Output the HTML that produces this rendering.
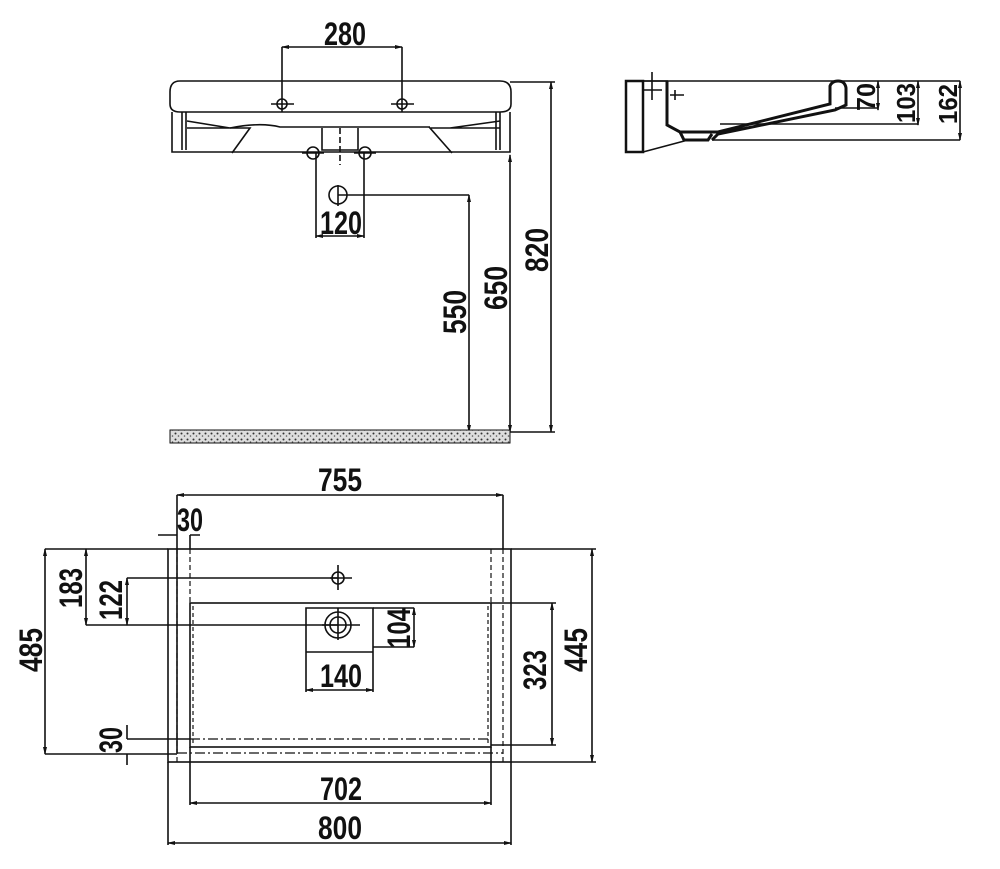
<!DOCTYPE html>
<html><head><meta charset="utf-8"><style>body{margin:0;background:#fff}svg{display:block}</style></head><body>
<svg width="1000" height="869" viewBox="0 0 1000 869" xmlns="http://www.w3.org/2000/svg" font-family="Liberation Sans, sans-serif" font-weight="bold" font-size="32">
<defs>
<pattern id="h" width="6" height="6" patternUnits="userSpaceOnUse"><rect width="6" height="6" fill="#ddd"/><circle cx="1.5" cy="1.5" r="1" fill="#333"/><circle cx="4.5" cy="4" r="0.8" fill="#555"/></pattern>
<marker id="a" markerWidth="8" markerHeight="8" refX="7" refY="4" orient="auto-start-reverse" markerUnits="userSpaceOnUse"><path d="M0,2 L8,4 L0,6 Z" fill="#111"/></marker>
</defs>
<g stroke="#111" stroke-width="1.6" fill="none">
<!-- top view -->
<path d="M180,81 H500 Q511,81 511,92 V104 Q511,112 500,112 H180 Q170,112 170,104 V92 Q170,81 180,81 Z"/>
<path d="M172,112 V152 H510 V112"/>
<path d="M182,112 V150 M186,112 V150 M496,112 V150 M500,112 V150"/>
<path d="M187,121 L230,128 M187,128 H230 L250,128 L232,153 M500,121 L450,128 M500,128 H450 L430,128 L452,153"/>
<path d="M230,128 Q260,122 280,127 H430"/>
<path d="M322,128 V150 H358 V128" />
<path d="M340,128 V165" stroke-dasharray="6,3"/>
<circle cx="282" cy="104" r="5"/><circle cx="402" cy="104" r="5"/>
<path d="M271,104 H294 M391,104 H414"/>
<circle cx="313" cy="153" r="6"/><circle cx="365" cy="153" r="6"/>
<path d="M302,153 H324 M354,153 H376"/>
<circle cx="338" cy="195" r="9"/><path d="M338,185 V206"/>
<path d="M282,47 V112 M402,47 V112"/>
<path d="M282,47 H402" marker-start="url(#a)" marker-end="url(#a)"/>
<path d="M316,153 V238 M364,153 V238"/>
<path d="M316,236 H364" marker-start="url(#a)" marker-end="url(#a)"/>
<path d="M338,195 H469"/>
<path d="M469,195 V432" marker-start="url(#a)" marker-end="url(#a)"/>
<path d="M510,155 V432" marker-start="url(#a)" marker-end="url(#a)"/>
<path d="M510,82 H555"/>
<path d="M551,82 V432" marker-start="url(#a)" marker-end="url(#a)"/>
<path d="M510,432 H555"/>
<rect x="170" y="430" width="340" height="13" fill="url(#h)" stroke-width="1"/>
<!-- side view -->
<path d="M626,81 H960"/>
<rect x="626" y="81" width="17" height="71" stroke-width="2.5"/>
<path d="M643,81 H668 M643,152 L688,140"/>
<path d="M667,81 V125 L680,132 H718 L830,104 V86 Q832,81 838,81 Q845,81 846,88 V105 L835,110 L718,134 L712,140 M680,132 L684,140 H708 L712,134" stroke-width="3"/>
<path d="M712,140 H960 M835,108 H878 M720,124 H918"/>
<path d="M652,72 V100 M642,90 H662 M675,90 V100 M670,95 H684"/>
<path d="M878,81 V110" marker-start="url(#a)" marker-end="url(#a)"/>
<path d="M918,81 V125" marker-start="url(#a)" marker-end="url(#a)"/>
<path d="M960,81 V140" marker-start="url(#a)" marker-end="url(#a)"/>
<!-- plan view -->
<rect x="168" y="549" width="343" height="213"/>
<path d="M177,549 V762 M503,549 V762" stroke-dasharray="5,3" stroke-width="1.2"/>
<path d="M190,549 V603 M491,549 V603" stroke-dasharray="5,3" stroke-width="1.2"/>
<rect x="190" y="603" width="301" height="144" stroke-width="1.6"/>
<path d="M193,606 V745 M488,606 V745" stroke-dasharray="4,3" stroke-width="1.2"/>
<path d="M190,739 H491 M177,753 H503" stroke-dasharray="10,3,2,3" stroke-width="1.2"/>
<path d="M177,495 V753 M503,495 V549"/>
<path d="M177,495 H503" marker-start="url(#a)" marker-end="url(#a)"/>
<path d="M158,535 H177 M190,535 H200 M190,535 V549" />
<circle cx="338" cy="578" r="6"/><path d="M338,565 V590 M330,578 H352"/>
<circle cx="338" cy="625" r="13"/><circle cx="338" cy="625" r="8"/>
<path d="M338,608 V640 M322,625 H360"/>
<path d="M306,608 H373 V652 H306 Z M306,652 V692 M373,652 V692"/>
<path d="M306,690 H373" marker-start="url(#a)" marker-end="url(#a)"/>
<path d="M373,608 H414 M373,647 H414"/>
<path d="M414,608 V647" marker-start="url(#a)" marker-end="url(#a)"/>
<path d="M45,549 H168 M45,754 H177"/>
<path d="M45,549 V754" marker-start="url(#a)" marker-end="url(#a)"/>
<path d="M86,625 H338 M127,578 H338"/>
<path d="M86,549 V625" marker-start="url(#a)" marker-end="url(#a)"/>
<path d="M127,578 V625" marker-start="url(#a)" marker-end="url(#a)"/>
<path d="M127,739 H190 M127,725 V739 M127,754 V765"/>
<path d="M190,747 V805 M491,747 V805"/>
<path d="M190,803 H491" marker-start="url(#a)" marker-end="url(#a)"/>
<path d="M168,762 V845 M511,762 V845"/>
<path d="M168,843 H511" marker-start="url(#a)" marker-end="url(#a)"/>
<path d="M491,603 H556 M491,745 H556"/>
<path d="M552,603 V745" marker-start="url(#a)" marker-end="url(#a)"/>
<path d="M511,549 H596 M511,762 H596"/>
<path d="M592,549 V762" marker-start="url(#a)" marker-end="url(#a)"/>
</g>
<g fill="#111" text-anchor="middle">
<text x="345" y="45" textLength="42" lengthAdjust="spacingAndGlyphs">280</text>
<text x="341" y="234" textLength="42" lengthAdjust="spacingAndGlyphs">120</text>
<text transform="translate(466,312) rotate(-90)" textLength="44" lengthAdjust="spacingAndGlyphs">550</text>
<text transform="translate(507,288) rotate(-90)" textLength="44" lengthAdjust="spacingAndGlyphs">650</text>
<text transform="translate(548,250) rotate(-90)" textLength="44" lengthAdjust="spacingAndGlyphs">820</text>
<text transform="translate(875,97) rotate(-90)" font-size="26" textLength="28" lengthAdjust="spacingAndGlyphs">70</text>
<text transform="translate(915,103) rotate(-90)" font-size="26" textLength="40" lengthAdjust="spacingAndGlyphs">103</text>
<text transform="translate(957,104) rotate(-90)" font-size="26" textLength="40" lengthAdjust="spacingAndGlyphs">162</text>
<text x="340" y="491" textLength="44" lengthAdjust="spacingAndGlyphs">755</text>
<text x="190" y="531" textLength="26" lengthAdjust="spacingAndGlyphs">30</text>
<text transform="translate(42,650) rotate(-90)" textLength="44" lengthAdjust="spacingAndGlyphs">485</text>
<text transform="translate(82,588) rotate(-90)" textLength="40" lengthAdjust="spacingAndGlyphs">183</text>
<text transform="translate(122,600) rotate(-90)" textLength="40" lengthAdjust="spacingAndGlyphs">122</text>
<text transform="translate(410,628) rotate(-90)" textLength="40" lengthAdjust="spacingAndGlyphs">104</text>
<text x="341" y="687" textLength="42" lengthAdjust="spacingAndGlyphs">140</text>
<text transform="translate(546,670) rotate(-90)" textLength="40" lengthAdjust="spacingAndGlyphs">323</text>
<text transform="translate(587,650) rotate(-90)" textLength="44" lengthAdjust="spacingAndGlyphs">445</text>
<text transform="translate(122,740) rotate(-90)" textLength="26" lengthAdjust="spacingAndGlyphs">30</text>
<text x="341" y="800" textLength="42" lengthAdjust="spacingAndGlyphs">702</text>
<text x="340" y="839" textLength="44" lengthAdjust="spacingAndGlyphs">800</text>
</g>
</svg>
</body></html>
